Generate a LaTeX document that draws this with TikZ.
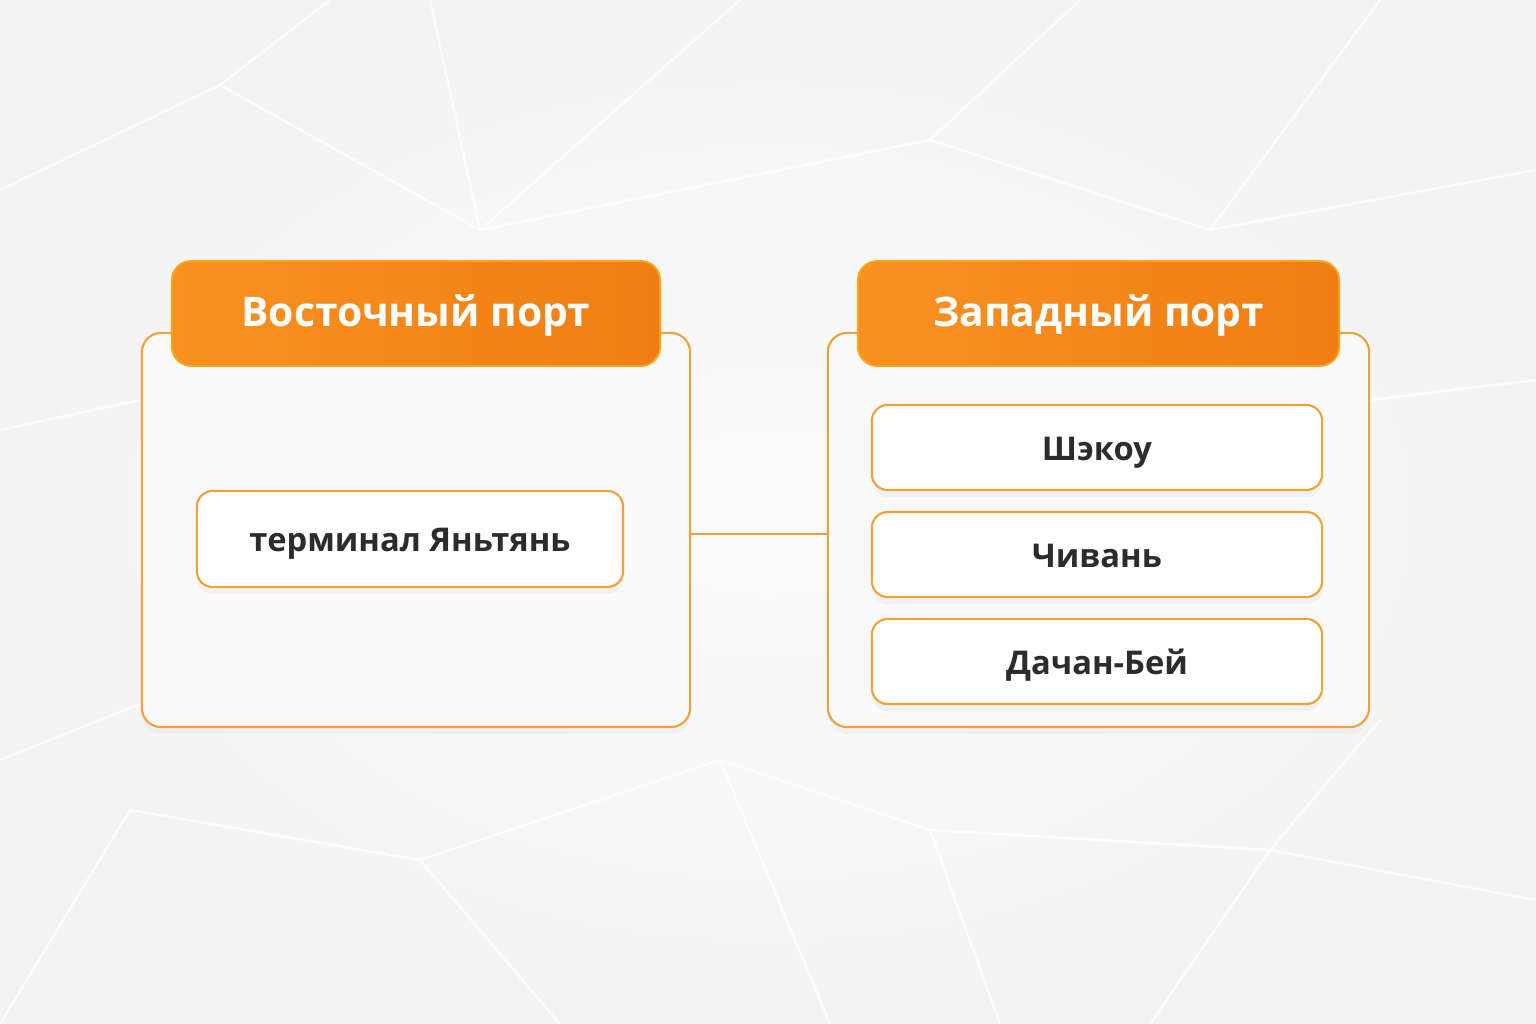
\documentclass[tikz,border=0pt]{standalone}
\usepackage{fontspec}
\setmainfont{Open Sans}
\usepackage{xcolor}
\usetikzlibrary{shadows}
\definecolor{bgcol}{HTML}{F3F3F3}
\definecolor{portline}{HTML}{F2A03A}
\definecolor{hdleft}{HTML}{F8911F}
\definecolor{hdright}{HTML}{F07E14}
\definecolor{txtdark}{HTML}{2C2C2C}
\tikzstyle{bgline}=[white,line width=.7pt,opacity=.7]
\tikzstyle{portbox}=[draw=portline,line width=.6pt,fill=white!60!bgcol,rounded corners=5.5pt,inner sep=0pt,
  drop shadow={opacity=.05,shadow xshift=0pt,shadow yshift=-2pt}]
\tikzstyle{porthead}=[draw=hdleft!80!yellow,line width=.5pt,left color=hdleft,right color=hdright,rounded corners=5.5pt,
  inner sep=0pt,minimum height=1.05cm,text=white,font=\fontsize{11.6}{14}\selectfont\bfseries,
  text height=.72em,text depth=0pt]
\tikzstyle{berth}=[draw=portline,line width=.6pt,fill=white,rounded corners=4.5pt,inner sep=0pt,
  text=txtdark,font=\fontsize{9.3}{11}\selectfont\bfseries,text height=.72em,text depth=0pt,
  drop shadow={opacity=.07,shadow xshift=0pt,shadow yshift=-2pt}]
\tikzstyle{link}=[draw=portline,line width=.8pt]

\begin{document}
\begin{tikzpicture}[x=0.01cm,y=-0.01cm]
	\fill[inner color=white!75!bgcol,outer color=bgcol] (0,0) rectangle (1536,1024);
	\useasboundingbox (0,0) rectangle (1536,1024);
	% faint mesh behind
	\draw[bgline] (0,190) -- (220,85) -- (330,0) (220,85) -- (480,230) -- (740,0) (480,230) -- (930,140) -- (1080,0)
	  (930,140) -- (1210,230) -- (1536,170) (1210,230) -- (1380,0) (0,430) -- (140,400) (1370,400) -- (1536,380)
	  (0,760) -- (150,700) (130,810) -- (0,1024) (130,810) -- (420,860) -- (560,1024) (420,860) -- (720,760)
	  (720,760) -- (830,1024) (720,760) -- (930,830) -- (1270,850) -- (1536,900) (1270,850) -- (1150,1024)
	  (1270,850) -- (1380,720) (930,830) -- (1000,1024) (480,230) -- (430,0);
	% east port
	\node[portbox,minimum width=5.48cm,minimum height=3.94cm] (east) at (416,530) {};
	\node[porthead,minimum width=4.88cm] (easthd) at (416,313.5) {Восточный порт};
	\node[berth,minimum width=4.26cm,minimum height=.96cm] (yantian) at (410,539) {терминал Яньтянь};
	% west port
	\node[portbox,minimum width=5.41cm,minimum height=3.94cm] (west) at (1098.5,530) {};
	\node[porthead,minimum width=4.81cm] (westhd) at (1098.5,313.5) {Западный порт};
	\node[berth,minimum width=4.5cm,minimum height=.85cm] (shekou) at (1097,447.5) {Шэкоу};
	\node[berth,minimum width=4.5cm,minimum height=.85cm] (chiwan) at (1097,554.5) {Чивань};
	\node[berth,minimum width=4.5cm,minimum height=.85cm] (dachan) at (1097,661.5) {Дачан-Бей};
	\draw[link] ([yshift=-.04cm]east.east) -- ([yshift=-.04cm]west.west);
\end{tikzpicture}
\end{document}
